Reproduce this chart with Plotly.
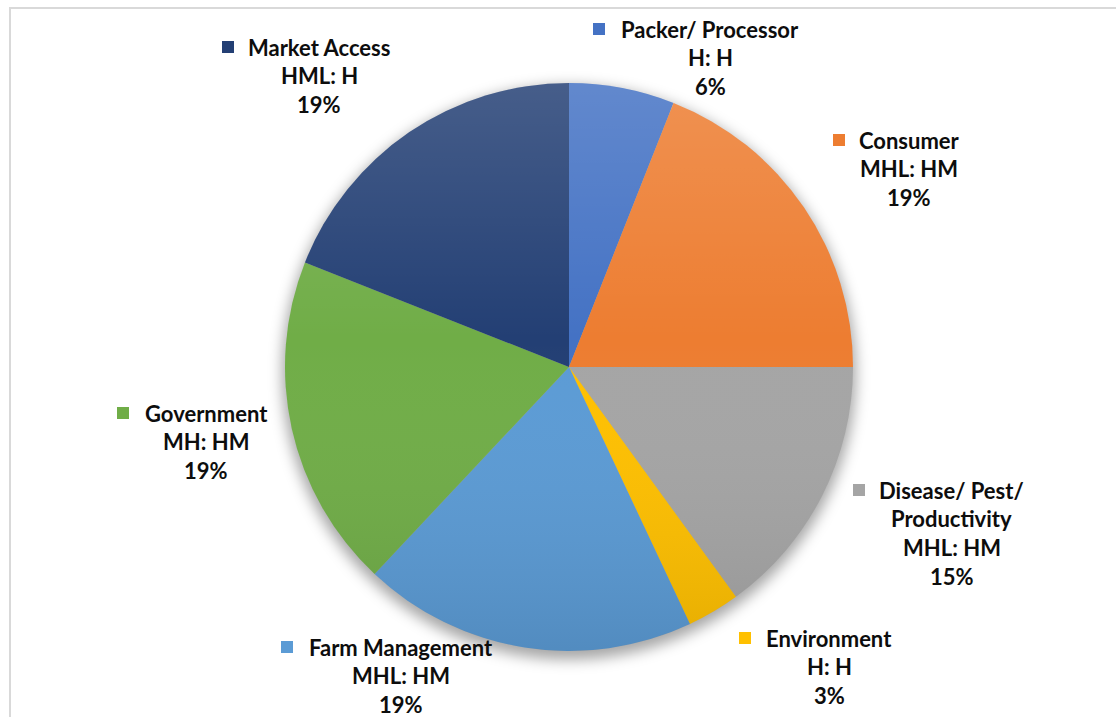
import base64
import plotly.graph_objects as go

# Stakeholder groups, clockwise from 12 o'clock
categories = ["Packer/ Processor", "Consumer", "Disease/ Pest/<br>Productivity",
              "Environment", "Farm Management", "Government", "Market Access"]
ratings = ["H: H", "MHL: HM", "MHL: HM", "H: H", "MHL: HM", "MH: HM", "HML: H"]
shares = [6, 19, 15, 3, 19, 19, 19]
colors = ["#4472C4", "#ED7D31", "#A5A5A5", "#FFC000", "#5B9BD5", "#70AD47", "#233F74"]

W, H = 1116, 717
CX, CY, R = 569, 367, 284  # pie centre and radius in pixels

# label block anchors (text centre x, first line y) and swatch x, in pixels
label_pos = [(710, 29, 599), (909, 140, 839), (952, 490, 859), (829, 638, 745),
             (401, 647, 287), (206, 413, 123), (319, 47, 228)]
LINE = 28.8

def px(x):
    return x / W

def py(y):
    return 1 - y / H

fig = go.Figure()
fig.add_trace(go.Pie(
    labels=[c.replace("<br>", " ") for c in categories],
    values=shares,
    sort=False,
    direction="clockwise",
    rotation=0,
    marker=dict(colors=colors, line=dict(width=0)),
    textinfo="none",
    hovertemplate="%{label}: %{percent}<extra></extra>",
    domain=dict(x=[px(CX - R), px(CX + R)], y=[py(CY + R), py(CY - R)]),
    showlegend=False,
))

font = dict(family="Lato, Carlito, sans-serif", size=22, color="#0d0d0d")
annotations = []
shapes = []
for cat, rate, val, col, (tx, ty, sx) in zip(categories, ratings, shares, colors, label_pos):
    lines = [f"<b>{t}</b>" for t in cat.split("<br>")] + [f"<b>{rate}</b>", f"<b>{val}%</b>"]
    for i, t in enumerate(lines):
        annotations.append(dict(x=px(tx), y=py(ty + i * LINE), xref="paper", yref="paper",
                                text=t, showarrow=False, xanchor="center", yanchor="middle",
                                font=font))
    shapes.append(dict(type="rect", xref="paper", yref="paper",
                       x0=px(sx - 6), x1=px(sx + 6), y0=py(ty - 6), y1=py(ty + 6),
                       fillcolor=col, line=dict(width=0)))

# chart-area frame
shapes.append(dict(type="rect", xref="paper", yref="paper",
                   x0=px(10), x1=px(W + 10), y0=py(H + 10), y1=py(8),
                   line=dict(color="#d9d9d9", width=2), fillcolor="rgba(0,0,0,0)"))

# soft lighting over the pie and a drop shadow beneath it
light_svg = """<svg xmlns='http://www.w3.org/2000/svg' width='200' height='200' viewBox='0 0 200 200'>
<defs><linearGradient id='g' x1='0' y1='0' x2='0' y2='1'>
<stop offset='0' stop-color='#ffffff' stop-opacity='0.16'/>
<stop offset='0.45' stop-color='#ffffff' stop-opacity='0'/>
<stop offset='1' stop-color='#000000' stop-opacity='0.10'/>
</linearGradient></defs>
<circle cx='100' cy='100' r='100' fill='url(#g)'/></svg>"""
shadow_svg = """<svg xmlns='http://www.w3.org/2000/svg' width='240' height='240' viewBox='0 0 240 240'>
<defs><filter id='b' x='-20%' y='-20%' width='140%' height='140%'><feGaussianBlur stdDeviation='2.5'/></filter></defs>
<circle cx='120' cy='122' r='101' fill='#000000' fill-opacity='0.35' filter='url(#b)'/></svg>"""

def uri(svg):
    return "data:image/svg+xml;base64," + base64.b64encode(svg.encode()).decode()

S = R * 240 / 200
images = [
    dict(source=uri(shadow_svg), xref="paper", yref="paper", x=px(CX - S), y=py(CY - S),
         sizex=2 * S / W, sizey=2 * S / H, sizing="stretch", xanchor="left", yanchor="top",
         layer="below"),
    dict(source=uri(light_svg), xref="paper", yref="paper", x=px(CX - R), y=py(CY - R),
         sizex=2 * R / W, sizey=2 * R / H, sizing="stretch", xanchor="left", yanchor="top",
         layer="above"),
]

fig.update_layout(
    width=W, height=H,
    margin=dict(l=0, r=0, t=0, b=0),
    paper_bgcolor="white", plot_bgcolor="white",
    annotations=annotations, shapes=shapes, images=images,
)
fig.write_html("out.html")
